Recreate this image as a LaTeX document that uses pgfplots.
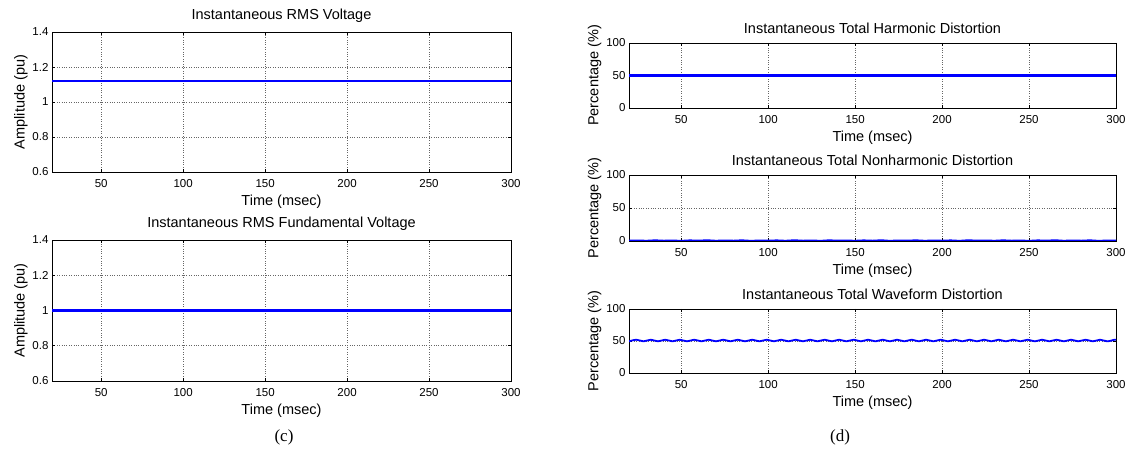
\documentclass[border=0pt]{standalone}
\usepackage{pgfplots}
\pgfplotsset{compat=1.18}
\usepackage{fontspec}
\setmainfont{Liberation Sans}
\newfontfamily\serifcap{Liberation Serif}
\definecolor{mblue}{rgb}{0,0,1}
\pgfplotsset{
  mystyle/.style={
    scale only axis,
    anchor=south west,
    xmin=20, xmax=300,
    xtick={50,100,150,200,250,300},
    grid=major,
    grid style={dotted, black!60, line width=0.6pt},
    major tick length=3pt,
    tick style={black, line width=0.6pt},
    axis line style={line width=0.9pt},
    /pgf/number format/assume math mode=true,
    tick label style={font=\fontsize{11.5}{13}\selectfont},
    xticklabel style={yshift=-4pt},
    label style={font=\fontsize{14.5}{16}\selectfont},
    ylabel style={yshift=-2pt},
    title style={font=\fontsize{14.5}{16}\selectfont},
    xlabel={Time (msec)},
  },
  leftstyle/.style={mystyle, width=459pt, height=140pt,
    ymin=0.6, ymax=1.4, ytick={0.6,0.8,1,1.2,1.4},
    yticklabels={0.6,0.8,1,1.2,1.4},
    ylabel={Amplitude (pu)}},
  rightstyle/.style={mystyle, width=487pt, height=65pt,
    ymin=0, ymax=100, ytick={0,50,100},
    ylabel={Percentage (\%)}},
  myline/.style={mblue, mark=none, line width=2.2pt},
}
\begin{document}
\begin{tikzpicture}[x=1pt,y=1pt]
\useasboundingbox (0,0) rectangle (1129,455);
% Left top
\begin{axis}[leftstyle, at={(52pt,283pt)}, title={Instantaneous RMS Voltage}]
\addplot[myline] coordinates {(20,1.12) (300,1.12)};
\end{axis}
% Left bottom
\begin{axis}[leftstyle, at={(52pt,74pt)}, height=141pt, title={Instantaneous RMS Fundamental Voltage}]
\addplot[myline] coordinates {(20,1.0) (300,1.0)};
\end{axis}
% Right top
\begin{axis}[rightstyle, at={(629pt,347pt)}, title={Instantaneous Total Harmonic Distortion}]
\addplot[myline] coordinates {(20,50) (300,50)};
\end{axis}
% Right middle
\begin{axis}[rightstyle, at={(629pt,214pt)}, height=66pt, title={Instantaneous Total Nonharmonic Distortion}]
\addplot[myline, line width=1.8pt] coordinates {
(20,0.6) (25,0.9) (30,0.4) (35,1.1) (40,0.5) (45,0.8) (50,0.3) (55,1.0) (60,0.6) (65,1.2)
(70,0.4) (75,0.9) (80,0.5) (85,1.1) (90,0.3) (95,0.8) (100,0.6) (105,1.0) (110,0.4) (115,1.2)
(120,0.5) (125,0.9) (130,0.3) (135,1.1) (140,0.6) (145,0.8) (150,0.4) (155,1.0) (160,0.5) (165,1.2)
(170,0.3) (175,0.9) (180,0.6) (185,1.1) (190,0.4) (195,0.8) (200,0.5) (205,1.0) (210,0.3) (215,1.2)
(220,0.6) (225,0.9) (230,0.4) (235,1.1) (240,0.5) (245,0.8) (250,0.3) (255,1.0) (260,0.6) (265,1.2)
(270,0.4) (275,0.9) (280,0.5) (285,1.1) (290,0.3) (295,0.8) (300,0.6)};
\end{axis}
% Right bottom
\begin{axis}[rightstyle, at={(629pt,82pt)}, height=64pt, title={Instantaneous Total Waveform Distortion}]
\addplot[myline, smooth, line width=1.8pt] coordinates {
(20.00,49.5) (24.17,52.0) (28.33,49.5) (32.50,52.0) (36.67,49.5) (40.83,52.0) (45.00,49.5) (49.17,52.0)
(53.33,49.5) (57.50,52.0) (61.67,49.5) (65.83,52.0) (70.00,49.5) (74.17,52.0) (78.33,49.5) (82.50,52.0)
(86.67,49.5) (90.83,52.0) (95.00,49.5) (99.17,52.0) (103.33,49.5) (107.50,52.0) (111.67,49.5) (115.83,52.0)
(120.00,49.5) (124.17,52.0) (128.33,49.5) (132.50,52.0) (136.67,49.5) (140.83,52.0) (145.00,49.5) (149.17,52.0)
(153.33,49.5) (157.50,52.0) (161.67,49.5) (165.83,52.0) (170.00,49.5) (174.17,52.0) (178.33,49.5) (182.50,52.0)
(186.67,49.5) (190.83,52.0) (195.00,49.5) (199.17,52.0) (203.33,49.5) (207.50,52.0) (211.67,49.5) (215.83,52.0)
(220.00,49.5) (224.17,52.0) (228.33,49.5) (232.50,52.0) (236.67,49.5) (240.83,52.0) (245.00,49.5) (249.17,52.0)
(253.33,49.5) (257.50,52.0) (261.67,49.5) (265.83,52.0) (270.00,49.5) (274.17,52.0) (278.33,49.5) (282.50,52.0)
(286.67,49.5) (290.83,52.0) (295.00,49.5) (299.17,52.0) (300.00,51.8)};
\end{axis}
\node[font=\serifcap\fontsize{17}{19}\selectfont] at (284,18) {(c)};
\node[font=\serifcap\fontsize{17}{19}\selectfont] at (840,18) {(d)};
\end{tikzpicture}
\end{document}
